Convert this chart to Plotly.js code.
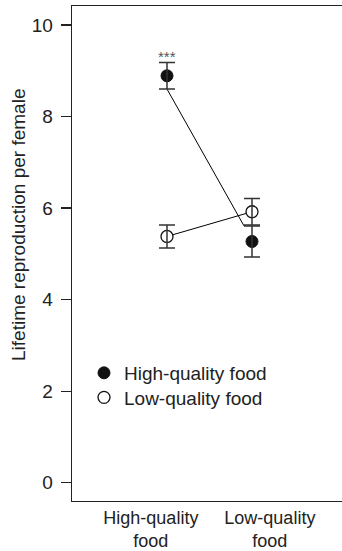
<!DOCTYPE html>
<html>
<head>
<meta charset="utf-8">
<script src="https://cdn.plot.ly/plotly-3.0.1.min.js"></script>
<style>html,body{margin:0;padding:0;background:#fff;overflow:hidden}</style>
</head>
<body>
<div id="chart" style="width:342px;height:551px"></div>
<script>
// Data
var categories = ['High-quality food', 'Low-quality food'];   // rearing diet (x groups)
var categoryPos = [1, 2];
var tickLabels = ['High-quality<br>food', 'Low-quality<br>food'];
var seriesNames = ['High-quality food', 'Low-quality food'];  // adult diet (legend)
var highMean = [8.89, 5.27];
var highErr  = [0.29, 0.34];
var lowMean  = [5.38, 5.92];
var lowErr   = [0.25, 0.29];
var significance = ['***', ''];

// Layout / style constants
var W = 342, H = 551;
var M = {l: 72, r: 0, t: 6, b: 50};
var xRange = [-0.1176, 3.0588];
var yRange = [-0.40, 10.415];
var capW = 8;
var pxPerX = (W - M.l - M.r) / (xRange[1] - xRange[0]);
var ink = '#222';
var FONT = 'Liberation Sans, Arial, Helvetica, sans-serif';
var fs = 19;
function px2paperX(px) { return (px - M.l) / (W - M.l - M.r); }
function px2paperY(py) { return (H - M.b - py) / (H - M.t - M.b); }

// line of the high-quality adult-diet series joins the error-bar ends
var highLineX = [categoryPos[0], categoryPos[1] - capW / pxPerX];
var highLineY = [highMean[0] - highErr[0], highMean[1] + highErr[1]];

var traces = [
  {x: highLineX, y: highLineY, mode: 'lines', line: {color: '#000', width: 1}, showlegend: false, hoverinfo: 'skip'},
  {x: categoryPos, y: lowMean, mode: 'lines', line: {color: '#000', width: 1}, showlegend: false, hoverinfo: 'skip'},
  {x: categoryPos, y: highMean, name: seriesNames[0], mode: 'markers', legend: 'legend',
   marker: {symbol: 'circle', size: 12, color: '#111', line: {color: '#111', width: 1}}},
  {x: categoryPos, y: lowMean, name: seriesNames[1], mode: 'markers', legend: 'legend2',
   marker: {symbol: 'circle', size: 12, color: '#fff', line: {color: '#111', width: 1.3}}},
  {x: categoryPos, y: highMean, mode: 'markers', showlegend: false, hoverinfo: 'skip',
   marker: {size: 1, color: 'rgba(0,0,0,0)'},
   error_y: {type: 'data', array: highErr, visible: true, color: '#333', thickness: 1.5, width: capW}},
  {x: categoryPos, y: lowMean, mode: 'markers', showlegend: false, hoverinfo: 'skip',
   marker: {size: 1, color: 'rgba(0,0,0,0)'},
   error_y: {type: 'data', array: lowErr, visible: true, color: '#333', thickness: 1.5, width: capW}}
];

var labelOffset = [-0.19, 0.21];
var tickvals = categoryPos.map(function (p, i) { return p + labelOffset[i]; });

var annotations = [];
significance.forEach(function (s, i) {
  if (!s) return;
  annotations.push({x: categoryPos[i], y: highMean[i] + highErr[i], xref: 'x', yref: 'y',
    text: s, showarrow: false, yanchor: 'bottom', yshift: -4,
    font: {family: FONT, size: 15, color: '#555'}});
});
annotations.push({xref: 'paper', yref: 'paper', x: px2paperX(19), y: px2paperY(225),
  text: 'Lifetime reproduction per female', textangle: -90, showarrow: false,
  xanchor: 'center', yanchor: 'middle', font: {family: FONT, size: fs, color: ink}});

function legendAt(py) {
  return {x: px2paperX(89), xanchor: 'left', y: px2paperY(py), yanchor: 'middle',
    bgcolor: 'rgba(0,0,0,0)', borderwidth: 0, font: {family: FONT, size: fs, color: ink},
    itemwidth: 30, indentation: -5};
}

var layout = {
  width: W, height: H,
  margin: M,
  paper_bgcolor: '#fff', plot_bgcolor: '#fff',
  font: {family: FONT, size: fs, color: ink},
  showlegend: true,
  legend: legendAt(373),
  legend2: legendAt(397.5),
  xaxis: {range: xRange, showgrid: false, zeroline: false, showline: true, mirror: true,
    linecolor: ink, linewidth: 1.3, ticks: '', tickvals: tickvals, ticktext: tickLabels,
    tickfont: {family: FONT, size: 18, color: ink}, fixedrange: true},
  yaxis: {range: yRange, showgrid: false, zeroline: false, showline: true, mirror: false,
    linecolor: ink, linewidth: 1.3, ticks: 'outside', ticklen: 10, tickwidth: 1.3, tickcolor: ink,
    ticklabelstandoff: 4,
    tickvals: [0, 2, 4, 6, 8, 10], tickfont: {family: FONT, size: fs, color: ink}, fixedrange: true},
  annotations: annotations
};

Plotly.newPlot('chart', traces, layout, {displayModeBar: false, staticPlot: true});
</script>
</body>
</html>
